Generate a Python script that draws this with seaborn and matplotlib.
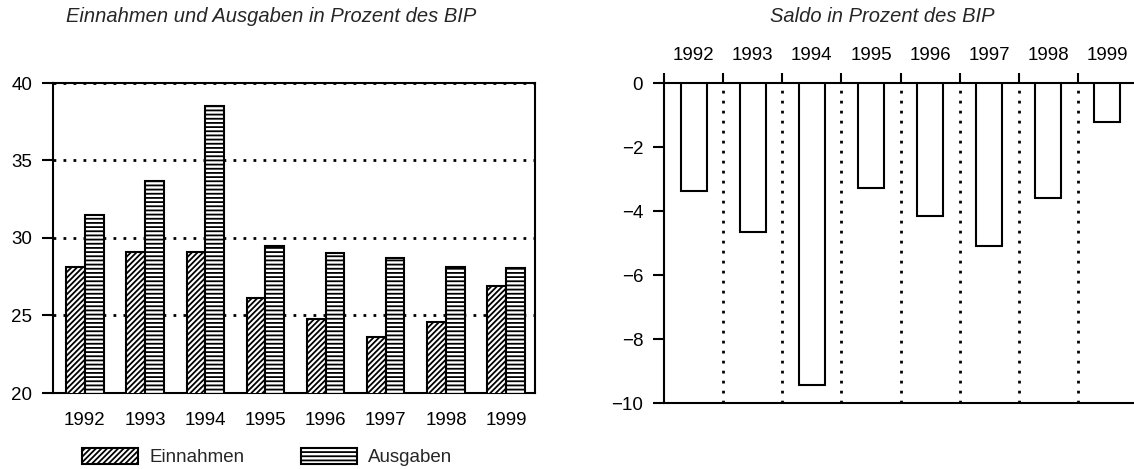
import numpy as np
import pandas as pd
import matplotlib
matplotlib.use("Agg")
import matplotlib.pyplot as plt
from matplotlib.patches import Patch
import seaborn as sns

years = ["1992", "1993", "1994", "1995", "1996", "1997", "1998", "1999"]
einnahmen = [28.1, 29.1, 29.1, 26.15, 24.8, 23.6, 24.55, 26.9]
ausgaben = [31.5, 33.7, 38.5, 29.5, 29.0, 28.7, 28.15, 28.05]
saldo = [-3.38, -4.65, -9.45, -3.29, -4.16, -5.1, -3.58, -1.21]
left_yticks = [20, 25, 30, 35, 40]
right_yticks = [0, -2, -4, -6, -8, -10]

sns.set_theme(style="white")
plt.rcParams["font.family"] = ["Liberation Sans", "DejaVu Sans"]
plt.rcParams["hatch.linewidth"] = 1.3
FS = 13.5
TFS = 14.5

fig = plt.figure(figsize=(11.34, 4.69), dpi=100)
W, H = 1134, 469
axL = fig.add_axes([53 / W, (H - 393) / H, 482 / W, 310 / H])
axR = fig.add_axes([664 / W, (H - 403) / H, 473 / W, 320 / H])

dots = (0, (1, 2.6))

# ---------- left chart ----------
df = pd.DataFrame({
    "Jahr": years * 2,
    "Wert": einnahmen + ausgaben,
    "Art": ["Einnahmen"] * len(years) + ["Ausgaben"] * len(years),
})
sns.barplot(data=df, x="Jahr", y="Wert", hue="Art", order=years,
            hue_order=["Einnahmen", "Ausgaben"], palette=["white", "white"],
            saturation=1, edgecolor="black", linewidth=1.5, width=0.62,
            legend=False, ax=axL, zorder=3)
hatches = ["//////", "----"]
for cont, h in zip(axL.containers, hatches):
    for p in cont:
        p.set_hatch(h)
        p.set_edgecolor("black")
axL.set_ylim(20, 40)
axL.set_xlim(-0.53, len(years) - 0.52)
axL.set_yticks(left_yticks)
axL.set_xlabel("")
axL.set_ylabel("")
axL.yaxis.grid(True, color="black", linestyle=dots, linewidth=2.0)
axL.xaxis.grid(False)
axL.set_axisbelow(True)
for s in axL.spines.values():
    s.set_visible(True)
    s.set_color("black")
    s.set_linewidth(1.5)
axL.tick_params(axis="y", left=True, direction="out", length=8, width=1.5,
                pad=7, labelsize=FS, colors="black")
axL.tick_params(axis="x", bottom=False, length=0, pad=14, labelsize=FS,
                colors="black")

handles = [Patch(facecolor="white", edgecolor="black", hatch=hatches[0], lw=1.5),
           Patch(facecolor="white", edgecolor="black", hatch=hatches[1], lw=1.5)]
fig.legend(handles, ["Einnahmen", "Ausgaben"], loc="center left",
           bbox_to_anchor=(82 / W, 12 / H), ncol=2, frameon=False,
           fontsize=FS, handlelength=3.0, handleheight=0.95,
           handletextpad=0.6, columnspacing=3.0, borderpad=0,
           borderaxespad=0)

# ---------- right chart ----------
dfr = pd.DataFrame({"Jahr": years, "Saldo": saldo})
sns.barplot(data=dfr, x="Jahr", y="Saldo", order=years, color="white",
            saturation=1, edgecolor="black", linewidth=1.5, width=0.44,
            ax=axR, zorder=3)
n = len(years)
axR.set_xlim(-0.5, n - 0.5)
axR.set_ylim(-10, 0)
axR.set_xlabel("")
axR.set_ylabel("")
axR.vlines(np.arange(0.5, n - 0.5, 1), -10, 0, colors="black",
           linestyles=dots, linewidth=2.0, zorder=1)
axR.set_yticks(right_yticks)
axR.set_xticks(np.arange(-0.5, n + 0.5, 1))
axR.set_xticklabels([""] * (n + 1))
axR.set_xticks(np.arange(n), minor=True)
axR.set_xticklabels(years, minor=True)
axR.tick_params(axis="x", which="major", top=True, bottom=False,
                direction="out", length=7, width=1.5, labeltop=False,
                labelbottom=False, colors="black")
axR.tick_params(axis="x", which="minor", top=True, bottom=False, length=0,
                labeltop=True, labelbottom=False, pad=14, labelsize=FS,
                colors="black")
axR.tick_params(axis="y", left=True, direction="out", length=8, width=1.5,
                pad=7, labelsize=FS, colors="black")
for k, s in axR.spines.items():
    s.set_color("black")
    s.set_linewidth(1.5)
    s.set_visible(k != "right")
axR.grid(False)

# ---------- titles ----------
fig.text(66 / W, 1 - 17 / H, "Einnahmen und Ausgaben in Prozent des BIP",
         fontsize=TFS, style="italic", ha="left", va="center")
fig.text(882 / W, 1 - 17 / H, "Saldo in Prozent des BIP",
         fontsize=TFS, style="italic", ha="center", va="center")

fig.savefig("out.png", dpi=100, facecolor="white")
